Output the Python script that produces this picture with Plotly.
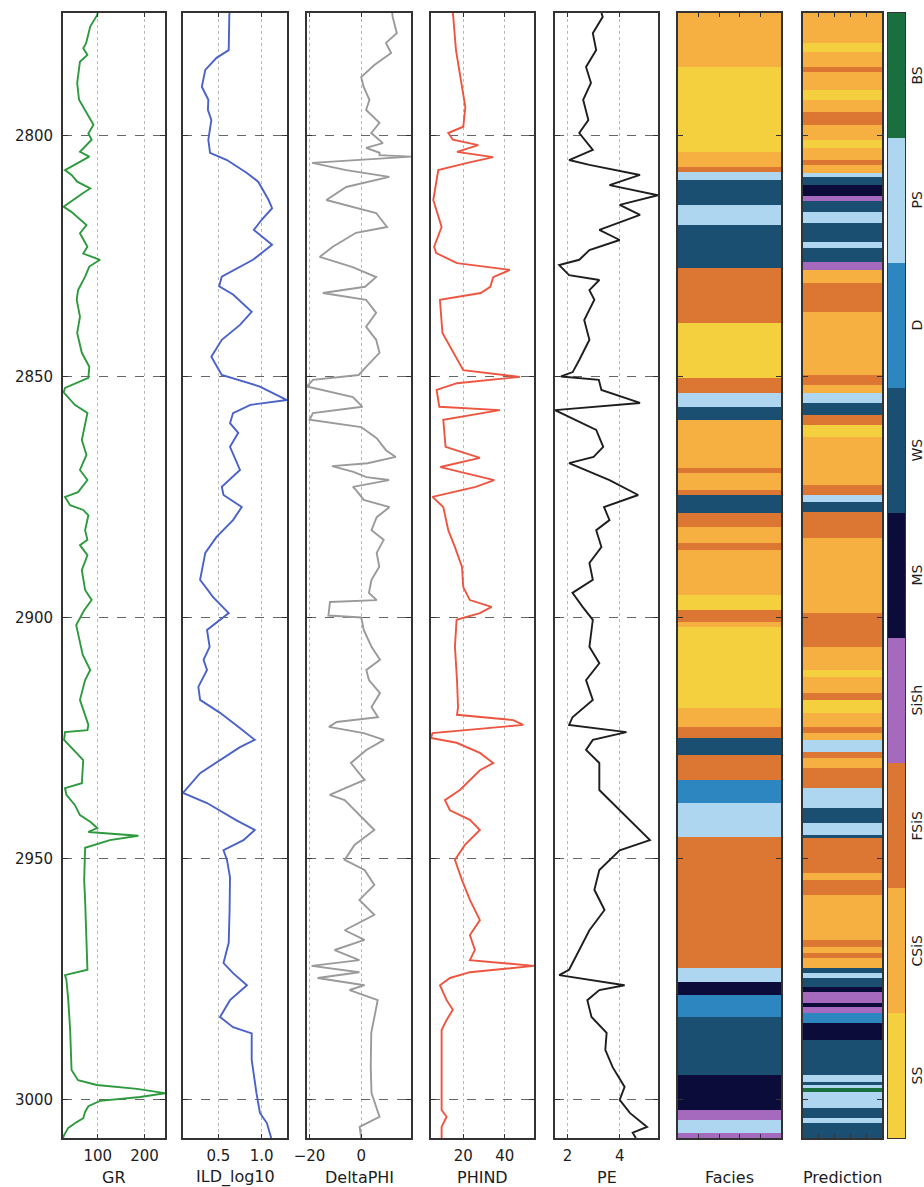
import plotly.graph_objects as go

W, H = 924, 1187

# ---------------- data ----------------
GR_DEPTH = [2774.5, 2774.9, 2777.3, 2780.8, 2781.8, 2783.2, 2784.6, 2789.0, 2792.5, 2795.7, 2797.7, 2799.5,
            2800.8, 2803.3, 2804.3, 2807.1, 2808.1, 2809.5, 2810.9, 2811.9, 2814.7, 2815.7, 2817.4, 2818.5,
            2820.2, 2823.0, 2824.4, 2825.7, 2827.1, 2829.2, 2832.0, 2834.0, 2837.5, 2840.9, 2845.0, 2847.9,
            2850.2, 2852.3, 2853.2, 2855.8, 2857.5, 2859.0, 2863.1, 2866.2, 2869.3, 2871.4, 2873.9, 2874.9,
            2876.6, 2877.6, 2878.7, 2881.8, 2883.8, 2884.9, 2887.0, 2890.1, 2894.2, 2896.3, 2898.4, 2901.5,
            2904.6, 2907.7, 2910.8, 2912.9, 2917.0, 2920.1, 2922.2, 2923.3, 2923.7, 2925.3, 2927.4, 2929.5,
            2934.3, 2935.3, 2936.7, 2938.8, 2940.9, 2942.3, 2943.6, 2944.4, 2945.2, 2946.1, 2947.7, 2954.4,
            2958.5, 2964.8, 2971.0, 2973.0, 2974.1, 2975.1, 2979.3, 2985.5, 2993.8, 2995.9, 2996.9, 2997.7,
            2998.6, 2999.4, 3000.2, 3001.3, 3002.5, 3003.8, 3004.6, 3005.8, 3007.3, 3007.9]
GR = [100, 99, 84, 75, 69, 78, 62, 56, 60, 80, 91, 80,
      87, 62, 82, 30, 44, 56, 84, 68, 27, 43, 62, 76,
      62, 78, 69, 105, 82, 73, 58, 55, 62, 56, 66, 82,
      80, 30, 27, 51, 78, 75, 66, 76, 62, 78, 58, 30,
      41, 69, 80, 73, 78, 62, 78, 66, 73, 87, 71, 54,
      61, 68, 84, 73, 62, 73, 80, 78, 30, 28, 48, 69,
      66, 30, 33, 51, 62, 84, 99, 80, 187, 126, 73, 71,
      73, 75, 76, 78, 30, 33, 37, 41, 44, 58, 98, 184,
      244, 191, 105, 80, 73, 69, 55, 37, 28, 25.7]

ILD_DEPTH = [2774.5, 2774.9, 2782.2, 2783.8, 2786.3, 2789.8, 2792.5, 2794.6, 2796.7, 2800.8, 2803.5, 2805.0,
             2807.7, 2809.5, 2813.3, 2815.0, 2817.4, 2819.5, 2822.6, 2825.7, 2829.2, 2831.2, 2832.9, 2836.5,
             2839.2, 2842.3, 2845.8, 2849.6, 2852.0, 2852.7, 2854.8, 2855.8, 2857.5, 2859.6, 2861.6, 2864.5,
             2869.3, 2872.8, 2874.5, 2877.0, 2879.7, 2883.2, 2886.5, 2892.1, 2895.7, 2899.0, 2902.5, 2906.0,
             2908.7, 2910.8, 2914.3, 2917.0, 2919.7, 2922.6, 2925.3, 2926.8, 2929.5, 2932.2, 2936.3, 2938.4,
             2942.0, 2944.0, 2946.1, 2948.2, 2950.2, 2953.8, 2960.6, 2967.4, 2971.6, 2973.7, 2976.2, 2979.3,
             2982.8, 2984.9, 2986.2, 2991.7, 2998.6, 3002.7, 3004.8, 3007.3, 3007.9]
ILD = [0.63, 0.627, 0.62, 0.48, 0.35, 0.31, 0.385, 0.38, 0.42, 0.385, 0.405, 0.60,
       0.83, 0.96, 1.08, 1.12, 1.00, 0.91, 1.12, 0.90, 0.54, 0.51, 0.67, 0.885,
       0.75, 0.54, 0.42, 0.54, 0.98, 1.06, 1.292, 0.87, 0.67, 0.635, 0.73, 0.635,
       0.75, 0.54, 0.56, 0.77, 0.67, 0.48, 0.35, 0.29, 0.44, 0.62, 0.37, 0.40,
       0.33, 0.37, 0.27, 0.29, 0.52, 0.73, 0.92, 0.75, 0.52, 0.29, 0.093, 0.37,
       0.71, 0.92, 0.79, 0.56, 0.60, 0.635, 0.63, 0.62, 0.56, 0.67, 0.83, 0.635,
       0.52, 0.67, 0.885, 0.885, 0.94, 0.98, 1.06, 1.10, 1.11]

DPHI_DEPTH = [2774.5, 2775.3, 2778.7, 2780.7, 2782.8, 2785.3, 2787.8, 2789.9, 2792.5, 2794.6, 2797.3, 2799.4,
              2801.5, 2802.5, 2803.5, 2804.0, 2804.3, 2805.6, 2807.1, 2808.5, 2810.6, 2813.3, 2816.0, 2818.9,
              2820.1, 2823.0, 2825.1, 2827.2, 2829.3, 2831.3, 2832.6, 2834.0, 2836.7, 2839.6, 2842.3, 2845.0,
              2847.9, 2849.6, 2850.6, 2852.0, 2854.2, 2856.2, 2857.5, 2858.9, 2860.4, 2862.7, 2865.2, 2866.6,
              2867.9, 2868.5, 2869.7, 2870.8, 2871.4, 2872.8, 2873.5, 2875.5, 2877.0, 2879.1, 2881.8, 2883.8,
              2886.5, 2889.4, 2892.1, 2894.8, 2896.3, 2896.7, 2899.5, 2899.9, 2902.5, 2906.0, 2908.7, 2910.8,
              2912.9, 2915.6, 2918.5, 2920.6, 2921.6, 2922.6, 2923.9, 2925.3, 2927.4, 2930.1, 2933.6, 2936.7,
              2937.8, 2940.9, 2944.0, 2947.1, 2950.2, 2952.3, 2955.4, 2958.5, 2961.6, 2964.8, 2966.8, 2968.9,
              2971.0, 2972.2, 2973.5, 2974.7, 2976.2, 2977.2, 2979.3, 2986.1, 2993.2, 2998.6, 3003.5, 3005.6,
              3007.9]
DPHI = [12, 12.2, 13.8, 9.6, 11.6, 5.1, 0, 1, 3.2, 1.9, 7.1, 3.9,
        8.4, 1.9, 7.1, 7.1, 19.3, -19, -5.8, 10.9, -5.8, -13.5, 5.8, 10,
        -2, -11, -16.1, -3.3, 5.8, 1.5, -14.9, 1.9, 5.8, 1.9, 5.8, 7.1,
        1.9, -1, -18.7, -21, -3.2, 0.5, -18.7, -20, 0, 6, 9.6, 13.4,
        2.5, -11.3, -3, 2, 10.8, -3.2, -2, 1, 11, 6, 4, 8.7,
        6, 7, 4, 3, 6, -12.1, -12.7, 0, 1, 4, 7.3, 2,
        3, 7.3, 4, 6.5, -9.5, -12.5, 1, 8.8, 2, -4, 1.3, -12.2,
        -6.4, -0.7, 5.1, -2.6, -6.4, 1.3, 5.1, -0.7, 5.1, -6.4, 1.3, -10.3,
        -0.7, -19.2, -0.7, -16.9, 1.3, -4.5, 6.4, 3.9, 3.7, 4, 7.1, -0.6,
        0]

PHIND_DEPTH = [2774.5, 2775.3, 2782.2, 2789.0, 2794.0, 2798.1, 2799.4, 2800.8, 2801.9, 2803.3, 2804.4, 2805.6,
               2807.1, 2813.3, 2818.9, 2823.0, 2824.3, 2826.4, 2827.8, 2829.3, 2831.3, 2832.6, 2834.0, 2840.9,
               2846.5, 2848.6, 2850.0, 2851.3, 2852.7, 2856.2, 2856.9, 2858.9, 2864.5, 2866.8, 2868.7, 2871.4,
               2872.8, 2874.9, 2877.0, 2881.8, 2885.3, 2889.4, 2893.6, 2896.3, 2897.7, 2899.0, 2900.4, 2906.0,
               2912.9, 2918.5, 2920.1, 2921.2, 2922.2, 2923.3, 2923.9, 2924.9, 2925.9, 2928.0, 2930.1, 2931.6,
               2933.6, 2935.7, 2937.8, 2939.9, 2941.9, 2944.0, 2947.1, 2950.2, 2954.4, 2958.5, 2962.7, 2965.8,
               2968.9, 2971.0, 2972.2, 2973.5, 2974.7, 2976.2, 2979.3, 2981.3, 2983.4, 2985.5, 3002.1, 3003.5,
               3005.6, 3007.9]
PHIND = [15, 15.2, 16.5, 19.2, 21, 20, 12.8, 15, 27.2, 17, 34.4, 22,
         8, 5.6, 9.6, 6, 7, 17, 42.4, 34.4, 33, 28.4, 8.8, 10,
         17.5, 20, 47.2, 17, 7.2, 8.5, 37.6, 10.4, 11.5, 28, 9, 34.9,
         26, 5.2, 10.4, 12.8, 16, 19.4, 20, 23.2, 33.6, 28, 16.8, 16,
         17, 17.5, 17, 44, 48.8, 18, 5.2, 4.5, 16.8, 28, 34.4, 28,
         23.2, 18.4, 11.2, 13.6, 23.2, 28, 20.8, 16, 19.4, 23.2, 28, 23.2,
         25.6, 23.2, 54, 23.2, 13.6, 8.8, 12, 15, 12, 9.6, 9.6, 12,
         9.6, 9.6]

PE_DEPTH = [2774.5, 2775.3, 2778.7, 2782.2, 2785.7, 2789.0, 2792.5, 2796.7, 2799.4, 2802.9, 2805.0, 2806.0,
            2808.1, 2810.2, 2812.3, 2814.3, 2816.4, 2819.5, 2821.6, 2823.7, 2825.7, 2826.8, 2828.9, 2829.9,
            2832.0, 2834.0, 2838.2, 2842.3, 2846.5, 2849.0, 2849.9, 2850.6, 2852.7, 2855.4, 2856.9, 2861.0,
            2864.5, 2866.6, 2867.9, 2871.4, 2874.5, 2877.0, 2879.7, 2881.8, 2885.3, 2888.6, 2892.1, 2894.8,
            2897.7, 2900.4, 2906.0, 2909.4, 2912.9, 2917.0, 2920.6, 2922.2, 2923.7, 2925.3, 2927.4, 2930.1,
            2935.7, 2939.9, 2944.0, 2946.1, 2948.2, 2952.3, 2956.4, 2960.6, 2964.8, 2968.9, 2971.0, 2973.0,
            2974.1, 2975.1, 2976.2, 2977.2, 2979.3, 2982.8, 2986.1, 2989.6, 2993.2, 2997.3, 3000.0, 3002.7,
            3005.6, 3006.8, 3007.9]
PE = [3.3, 3.35, 2.97, 3.1, 2.71, 2.9, 2.6, 2.8, 2.45, 2.97, 2.06, 2.84,
      4.78, 3.61, 5.47, 4.0, 4.78, 3.22, 4.0, 2.84, 2.45, 1.68, 2.06, 3.22,
      2.84, 3.03, 2.64, 2.84, 2.45, 2.2, 1.75, 3.2, 3.3, 4.78, 1.52, 3.1,
      3.37, 3.0, 2.06, 3.61, 4.71, 3.4, 3.61, 3.1, 3.3, 2.84, 2.97, 2.19,
      2.58, 2.97, 2.84, 3.22, 2.71, 2.97, 2.19, 2.06, 4.26, 2.97, 2.71, 3.22,
      3.22, 4.0, 4.78, 5.16, 4.0, 3.22, 3.03, 3.42, 2.84, 2.45, 2.26, 2.06,
      1.68, 2.84, 4.19, 3.22, 2.76, 2.92, 3.5, 3.45, 3.73, 4.19, 4.0, 4.39,
      5.05, 4.5, 4.62]

FACIES_NAMES = ['SS', 'CSiS', 'FSiS', 'SiSh', 'MS', 'WS', 'D', 'PS', 'BS']
FACIES_COLORS = ['#F4D03F', '#F5B041', '#DC7633', '#A569BD', '#0B0C3A',
                 '#1B4F72', '#2E86C1', '#AED6F1', '#196F3D']

FACIES_EDGES = [2774.5, 2785.7, 2803.3, 2806.4, 2807.5, 2809.1, 2814.3, 2818.5, 2827.4, 2838.8, 2850.2,
                2853.3, 2856.2, 2858.9, 2868.9, 2869.9, 2873.5, 2874.5, 2878.2, 2881.1, 2884.5, 2885.9,
                2895.2, 2898.4, 2900.9, 2901.9, 2918.7, 2922.6, 2924.9, 2928.4, 2933.6, 2938.4, 2945.5,
                2972.6, 2975.5, 2978.2, 2982.8, 2994.8, 3002.1, 3004.2, 3006.9, 3007.9]
FACIES = [2, 1, 2, 3, 8, 6, 8, 6, 3, 1, 3, 8, 6, 2, 3, 2, 3, 6, 3, 2, 3, 2, 1, 3, 2, 1, 2, 3, 6, 3,
          7, 8, 3, 8, 5, 7, 6, 5, 4, 8, 4]

PRED_EDGES = [2774.5, 2780.7, 2782.6, 2785.7, 2786.7, 2790.5, 2792.5, 2795.0, 2797.7, 2800.8, 2802.5,
              2805.0, 2806.0, 2807.7, 2808.5, 2810.2, 2812.5, 2813.5, 2815.8, 2818.1, 2822.0, 2823.3,
              2826.2, 2827.8, 2830.5, 2836.5, 2849.6, 2851.7, 2853.3, 2855.4, 2857.9, 2860.0, 2862.5,
              2872.4, 2874.5, 2875.9, 2878.0, 2883.4, 2899.0, 2906.0, 2910.8, 2912.3, 2915.6, 2917.0,
              2919.7, 2922.6, 2923.9, 2925.3, 2927.8, 2929.1, 2931.1, 2935.3, 2939.4, 2942.6, 2945.0,
              2945.6, 2952.9, 2954.4, 2957.5, 2966.8, 2968.3, 2969.5, 2970.6, 2972.6, 2973.7, 2974.7,
              2976.6, 2977.6, 2979.9, 2980.7, 2982.0, 2984.0, 2987.6, 2994.8, 2996.3, 2996.9, 2997.5,
              2998.4, 3001.7, 3003.8, 3004.8, 3007.9]
PREDICTION = [2, 1, 2, 3, 2, 1, 2, 3, 2, 1, 2, 3, 2, 8, 6, 5, 4, 6, 8, 6, 8, 6, 4, 2, 3, 2, 3, 2, 8, 6,
              3, 1, 2, 3, 8, 6, 3, 2, 3, 2, 1, 2, 3, 1, 2, 3, 2, 8, 3, 2, 3, 8, 6, 8, 6, 3, 2, 3, 2, 3,
              2, 3, 2, 6, 8, 6, 5, 4, 5, 4, 7, 5, 6, 8, 6, 8, 9, 8, 6, 8, 6]

DEPTH_TICKS = [2800, 2850, 2900, 2950, 3000]
TOP, BOTTOM = 2774.5, 3007.9

# ---------------- figure ----------------
FONT = 'DejaVu Sans'
TXT = '#1c1c1c'
FRAME = '#333333'

# panel pixel columns [left, right]
cols = [(63, 165), (183, 287), (307, 411), (431, 534), (555, 658), (678, 781), (803, 882), (888, 905)]
ydom = [1 - 1138 / H, 1 - 13 / H]

n = len(FACIES_NAMES)
cscale = []
for i, c in enumerate(FACIES_COLORS):
    cscale.append([i / n, c])
    cscale.append([(i + 1) / n, c])

fig = go.Figure()

curves = [
    (GR, GR_DEPTH, '#2e9a3e', 'GR', [100, 200], ['100', '200']),
    (ILD, ILD_DEPTH, '#4a62c8', 'ILD_log10', [0.5, 1.0], ['0.5', '1.0']),
    (DPHI, DPHI_DEPTH, '#9a9a9a', 'DeltaPHI', [-20, 0], ['\u221220', '0']),
    (PHIND, PHIND_DEPTH, '#ee5540', 'PHIND', [20, 40], ['20', '40']),
    (PE, PE_DEPTH, '#1e1e1e', 'PE', [2, 4], ['2', '4']),
]

layout = dict(width=W, height=H, margin=dict(l=0, r=0, t=0, b=0, autoexpand=False),
              paper_bgcolor='white', plot_bgcolor='white', showlegend=False,
              font=dict(family=FONT, size=15, color=TXT))
annotations = []

for k, (vals, dep, color, title, tv, tt) in enumerate(curves):
    i = k + 1
    sfx = '' if i == 1 else str(i)
    fig.add_trace(go.Scatter(x=vals, y=dep, mode='lines', line=dict(color=color, width=1.9),
                             xaxis='x' + sfx, yaxis='y' + sfx, hoverinfo='skip'))
    layout['xaxis' + sfx] = dict(domain=[cols[k][0] / W, cols[k][1] / W], anchor='y' + sfx,
                                 range=[min(vals), max(vals)], tickvals=tv, ticktext=tt,
                                 automargin=False,
                                 showgrid=True, gridcolor='#b8b8b8', griddash='dot', gridwidth=1,
                                 zeroline=False, showline=True, linecolor=FRAME, linewidth=1.8,
                                 mirror='ticks', ticks='inside', ticklen=4, tickcolor=FRAME,
                                 tickfont=dict(family=FONT, size=15, color=TXT), ticklabelstandoff=3)
    layout['yaxis' + sfx] = dict(domain=ydom, anchor='x' + sfx, range=[BOTTOM, TOP],
                                 tickvals=DEPTH_TICKS, showticklabels=(i == 1), automargin=False,
                                 showgrid=True, gridcolor='#666666', griddash='dash', gridwidth=1,
                                 zeroline=False, showline=True, linecolor=FRAME, linewidth=1.8,
                                 mirror='ticks', ticks='inside', ticklen=5, tickcolor=FRAME,
                                 tickfont=dict(family=FONT, size=15, color=TXT), ticklabelstandoff=5)
    if i > 1:
        layout['yaxis' + sfx]['matches'] = 'y'
    annotations.append(dict(text=title, x=(cols[k][0] + cols[k][1]) / 2 / W, y=1 - 1177 / H,
                            xref='paper', yref='paper', showarrow=False, xanchor='center',
                            yanchor='middle', font=dict(family=FONT, size=16, color=TXT)))

# facies and prediction columns
for k, (codes, edges, title) in enumerate([(FACIES, FACIES_EDGES, 'Facies'),
                                           (PREDICTION, PRED_EDGES, 'Prediction')]):
    i = 6 + k
    sfx = str(i)
    fig.add_trace(go.Heatmap(z=[[c] for c in codes], x=[0, 1], y=edges, colorscale=cscale,
                             zmin=0.5, zmax=n + 0.5, showscale=False, xaxis='x' + sfx,
                             yaxis='y' + sfx, hoverinfo='skip'))
    c = cols[i - 1]
    layout['xaxis' + sfx] = dict(domain=[c[0] / W, c[1] / W], anchor='y' + sfx, range=[0, 1],
                                 tickvals=[0.2, 0.4, 0.6, 0.8], showticklabels=False, showgrid=False,
                                 automargin=False,
                                 zeroline=False, showline=True, linecolor=FRAME, linewidth=1.6,
                                 mirror='ticks', ticks='inside', ticklen=4, tickcolor=FRAME)
    layout['yaxis' + sfx] = dict(domain=ydom, anchor='x' + sfx, range=[BOTTOM, TOP], matches='y',
                                 tickvals=DEPTH_TICKS, showticklabels=False, showgrid=False,
                                 automargin=False,
                                 zeroline=False, showline=True, linecolor=FRAME, linewidth=1.6,
                                 mirror='ticks', ticks='inside', ticklen=5, tickcolor=FRAME)
    annotations.append(dict(text=title, x=(c[0] + c[1]) / 2 / W, y=1 - 1177 / H,
                            xref='paper', yref='paper', showarrow=False, xanchor='center',
                            yanchor='middle', font=dict(family=FONT, size=16, color=TXT)))

# colour key
fig.add_trace(go.Heatmap(z=[[j + 1] for j in range(n)], x=[0, 1], y=list(range(n + 1)),
                         colorscale=cscale, zmin=0.5, zmax=n + 0.5, showscale=False,
                         xaxis='x8', yaxis='y8', hoverinfo='skip'))
c = cols[7]
layout['xaxis8'] = dict(domain=[c[0] / W, c[1] / W], anchor='y8', range=[0, 1], showticklabels=False,
                        showgrid=False, zeroline=False, showline=True, linecolor=FRAME, linewidth=1.2,
                        mirror=True, ticks='', automargin=False)
layout['yaxis8'] = dict(domain=ydom, anchor='x8', range=[0, n], showticklabels=False, showgrid=False,
                        zeroline=False, showline=True, linecolor=FRAME, linewidth=1.2, mirror=True,
                        ticks='', automargin=False)
seg = (ydom[1] - ydom[0]) / n
for j, name in enumerate(FACIES_NAMES):
    annotations.append(dict(text=name, x=916 / W, y=ydom[0] + (j + 0.5) * seg, xref='paper',
                            yref='paper', showarrow=False, textangle=-90, xanchor='center',
                            yanchor='middle', font=dict(family=FONT, size=14, color=TXT)))

layout['annotations'] = annotations
fig.update_layout(**layout)
fig.write_html('out.html')
